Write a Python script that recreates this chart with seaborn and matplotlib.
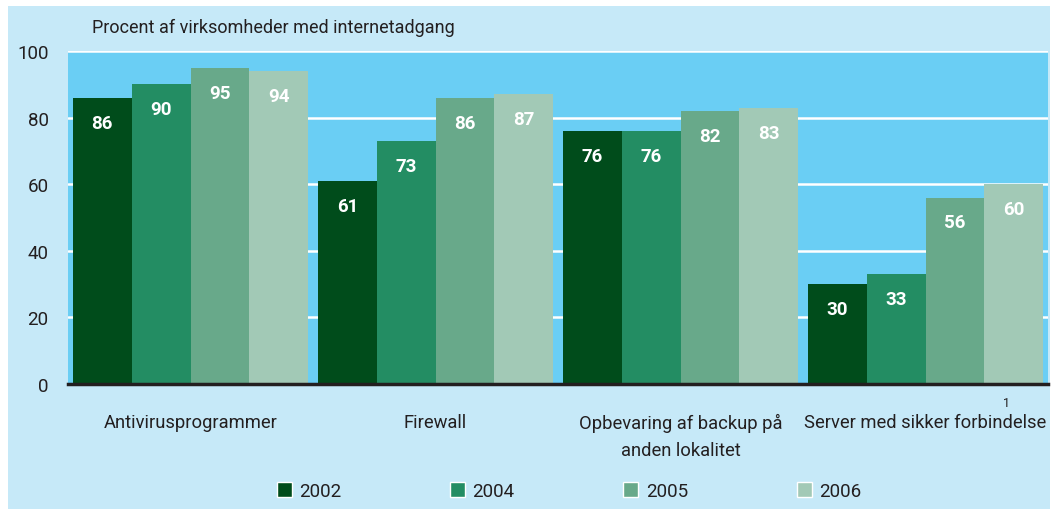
import pandas as pd
import seaborn as sns
import matplotlib.pyplot as plt
from matplotlib.patches import Rectangle

# Data
categories = ["Antivirusprogrammer", "Firewall",
              "Opbevaring af backup på\nanden lokalitet", "Server med sikker forbindelse"]
years = ["2002", "2004", "2005", "2006"]
v2002 = [86, 61, 76, 30]
v2004 = [90, 73, 76, 33]
v2005 = [95, 86, 82, 56]
v2006 = [94, 87, 83, 60]

colors = ["#004c1b", "#238d63", "#68a98a", "#a2c9b6"]
outer_bg = "#c6e9f8"
plot_bg = "#6acef4"
txt = "#231f20"

df = pd.DataFrame({
    "kategori": categories * 4,
    "aar": [y for y in years for _ in categories],
    "pct": v2002 + v2004 + v2005 + v2006,
})

sns.set_style("white")
plt.rcParams["font.family"] = ["Roboto", "DejaVu Sans"]

fig = plt.figure(figsize=(10.52, 5.10), dpi=100)
fig.patch.set_facecolor("white")
fig.patches.append(Rectangle((8 / 1052, 0), 1042 / 1052, 503 / 510,
                             transform=fig.transFigure, facecolor=outer_bg,
                             edgecolor="none", zorder=-10))
ax = fig.add_axes([68 / 1052, 1 - 385 / 510, 980 / 1052, 333 / 510])
ax.set_facecolor(plot_bg)

sns.barplot(data=df, x="kategori", y="pct", hue="aar", palette=colors,
            width=0.96, gap=0, saturation=1, edgecolor="none", ax=ax, legend=False)

for cont in ax.containers:
    for bar in cont:
        h = bar.get_height()
        ax.text(bar.get_x() + bar.get_width() / 2, h - 7.5, f"{h:.0f}",
                ha="center", va="center", color="white", fontsize=13.5,
                fontweight="bold")

ax.set_ylim(0, 100)
ax.set_xlim(-0.5, 3.5)
ax.set_yticks([0, 20, 40, 60, 80, 100])
ax.yaxis.grid(True, color="white", linewidth=1.8)
ax.set_axisbelow(True)
for s in ["top", "right", "left"]:
    ax.spines[s].set_visible(False)
ax.spines["bottom"].set_color(txt)
ax.spines["bottom"].set_linewidth(2.5)
ax.tick_params(axis="y", length=0, labelsize=13.5, colors=txt, pad=14)
ax.tick_params(axis="x", length=0, labelsize=13.2, colors=txt, pad=21)
for lbl in ax.get_xticklabels():
    lbl.set_va("top")
    lbl.set_linespacing(1.65)
ax.set_xlabel("")
ax.set_ylabel("")

fig.text(92 / 1052, 1 - 28 / 510, "Procent af virksomheder med internetadgang",
         fontsize=13, color=txt, va="center")
fig.text(1006 / 1052, 1 - 404 / 510, "1", fontsize=9, color=txt,
         ha="center", va="center")

handles = [Rectangle((0, 0), 1, 1, facecolor=c) for c in colors]
fig.legend(handles, years, loc="center", bbox_to_anchor=(569 / 1052, 1 - 492 / 510),
           ncol=4, frameon=False, fontsize=13.5, columnspacing=5.8,
           handlelength=0.8, handleheight=0.8, handletextpad=0.4,
           labelcolor=txt)

fig.savefig("out.png", dpi=100, facecolor=fig.get_facecolor())
